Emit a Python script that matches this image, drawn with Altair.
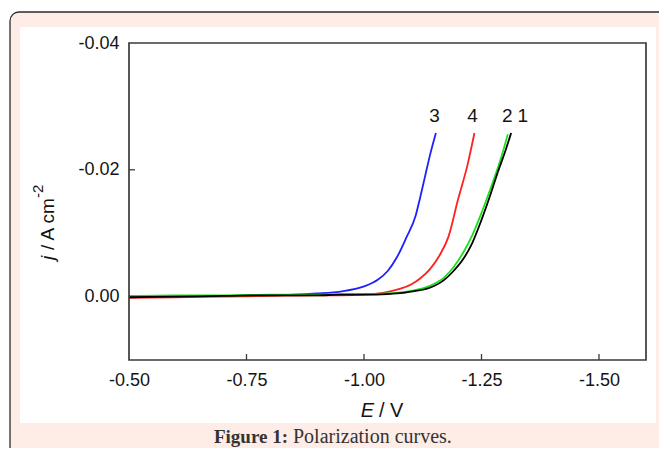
import altair as alt
import pandas as pd

# ---- data ----
E1 = [-0.50, -0.60, -0.70, -0.80, -0.90, -0.95, -1.00, -1.05, -1.07, -1.10, -1.14, -1.17, -1.19, -1.21, -1.23, -1.25, -1.27, -1.285, -1.30, -1.313]
J1 = [0.0001, 0.0000, -0.0001, -0.0002, -0.0002, -0.0003, -0.0003, -0.0004, -0.0005, -0.0008, -0.0014, -0.0026, -0.0040, -0.0058, -0.0084, -0.0121, -0.0163, -0.0197, -0.0228, -0.0258]

E2 = [-0.50, -0.60, -0.70, -0.80, -0.90, -0.95, -1.00, -1.05, -1.07, -1.10, -1.14, -1.17, -1.19, -1.21, -1.23, -1.25, -1.27, -1.29, -1.306]
J2 = [-0.0001, -0.0002, -0.0002, -0.0003, -0.0003, -0.0004, -0.0004, -0.0005, -0.0006, -0.0009, -0.0017, -0.0030, -0.0046, -0.0068, -0.0096, -0.0132, -0.0172, -0.0215, -0.0256]

E3 = [-0.50, -0.60, -0.70, -0.80, -0.85, -0.90, -0.95, -1.00, -1.03, -1.05, -1.07, -1.09, -1.11, -1.12, -1.13, -1.14, -1.153]
J3 = [0.0000, -0.0001, -0.0001, -0.0002, -0.0003, -0.0005, -0.0008, -0.0016, -0.0027, -0.0040, -0.0062, -0.0093, -0.0128, -0.0158, -0.0190, -0.0222, -0.0258]

E4 = [-0.50, -0.60, -0.70, -0.80, -0.90, -0.95, -1.00, -1.04, -1.07, -1.10, -1.12, -1.14, -1.16, -1.18, -1.20, -1.22, -1.235]
J4 = [0.0002, 0.0001, 0.0000, -0.0001, -0.0002, -0.0002, -0.0003, -0.0006, -0.0011, -0.0019, -0.0029, -0.0043, -0.0064, -0.0095, -0.0153, -0.0207, -0.0258]

curve_names = ["3", "4", "2", "1"]
curve_colors = ["#1f1fff", "#ff2020", "#19e019", "#000000"]

label_text = ["3", "4", "2", "1"]
label_E = [-1.150, -1.231, -1.305, -1.338]
label_j = [-0.0275, -0.0275, -0.0275, -0.0275]

x_ticks = [-0.50, -0.75, -1.00, -1.25, -1.50]
y_ticks = [-0.04, -0.02, 0.00]
x_domain = [-0.50, -1.60]
y_domain = [0.01, -0.04]

# ---- tables ----
rows = []
for name, E, J in [("3", E3, J3), ("4", E4, J4), ("2", E2, J2), ("1", E1, J1)]:
    rows += [{"curve": name, "E": e, "j": j} for e, j in zip(E, J)]
df = pd.DataFrame(rows)
labels = pd.DataFrame({"t": label_text, "E": label_E, "j": label_j})
xt = pd.DataFrame({"E": x_ticks[1:]})
yt = pd.DataFrame({"j": y_ticks[1:2]})
one = pd.DataFrame({"k": [0]})

W, H = 517, 317
FONT = "Liberation Sans"
INK = "#141414"
xs = alt.Scale(domain=x_domain, nice=False, zero=False)
ys = alt.Scale(domain=y_domain, nice=False, zero=False)
minus_fix = "replace(format(datum.value, '.2f'), '\u2212', '-')"

outer = alt.Chart(one).mark_rect(
    fill="#fdede6", stroke="#2b2b2b", strokeWidth=1.3, cornerRadius=9
).encode(x=alt.value(-119), x2=alt.value(600), y=alt.value(-31), y2=alt.value(460))

inner = alt.Chart(one).mark_rect(fill="#ffffff").encode(
    x=alt.value(-109), x2=alt.value(527), y=alt.value(-16), y2=alt.value(380)
)

lines = alt.Chart(df).mark_line(strokeWidth=1.8, interpolate="monotone").encode(
    x=alt.X("E:Q", scale=xs, axis=alt.Axis(
        values=x_ticks, labelExpr=minus_fix, title=None, domain=False, ticks=False,
        grid=False, labelFont=FONT, labelFontSize=18, labelColor=INK,
        labelPadding=11, labelFlush=False, labelOverlap=False, zindex=1)),
    y=alt.Y("j:Q", scale=ys, axis=alt.Axis(
        values=y_ticks, labelExpr=minus_fix, title=None, domain=False, ticks=False,
        grid=False, labelFont=FONT, labelFontSize=18, labelColor=INK,
        labelPadding=10, labelFlush=False, labelOverlap=False, zindex=1)),
    color=alt.Color("curve:N", scale=alt.Scale(domain=curve_names, range=curve_colors), legend=None),
    detail="curve:N",
)

frame = alt.Chart(one).mark_rect(filled=False, stroke="#3a3a3a", strokeWidth=1.7).encode(
    x=alt.value(0), x2=alt.value(W), y=alt.value(0), y2=alt.value(H)
)

xtick = alt.Chart(xt).mark_rule(color="#3a3a3a", strokeWidth=1.3).encode(
    x=alt.X("E:Q", scale=xs, title=None), y=alt.value(H - 6), y2=alt.value(H)
)
ytick = alt.Chart(yt).mark_rule(color="#3a3a3a", strokeWidth=1.3).encode(
    y=alt.Y("j:Q", scale=ys, title=None), x=alt.value(0), x2=alt.value(6)
)

curve_labels = alt.Chart(labels).mark_text(
    font=FONT, fontSize=19, color=INK, baseline="alphabetic"
).encode(
    x=alt.X("E:Q", scale=xs, title=None), y=alt.Y("j:Q", scale=ys, title=None), text="t:N"
)

def txt(s, x, y, **kw):
    return alt.Chart(one).mark_text(text=s, **kw).encode(x=alt.value(x), y=alt.value(y))

x_title = txt("E", 245, 374, font=FONT, fontSize=20, fontStyle="italic", align="right",
              baseline="alphabetic", color=INK) + \
          txt("/ V", 250, 374, font=FONT, fontSize=20, align="left",
              baseline="alphabetic", color=INK)

y_title = txt("j", -75, 217, font=FONT, fontSize=19, fontStyle="italic", angle=270,
              align="left", baseline="alphabetic", color=INK) + \
          txt("/ A cm", -75, 207, font=FONT, fontSize=19, angle=270,
              align="left", baseline="alphabetic", color=INK) + \
          txt("-2", -86, 155, font=FONT, fontSize=15, angle=270,
              align="left", baseline="alphabetic", color=INK)

caption = txt("Figure 1:", 159, 400, font="Liberation Serif", fontSize=19, fontWeight="bold",
              align="right", baseline="alphabetic", color="#333333") + \
          txt("Polarization curves.", 164, 400, font="Liberation Serif", fontSize=20,
              align="left", baseline="alphabetic", color="#333333")

chart = alt.layer(
    outer, inner, lines, frame, xtick, ytick, curve_labels, x_title, y_title, caption
).properties(
    width=W, height=H, background="#ffffff",
    padding={"left": 121, "top": 35, "right": 13, "bottom": 88},
    autosize=alt.AutoSizeParams(type="none")
).configure_view(stroke=None)

chart.save("out.html", embed_options={"renderer": "svg", "actions": False})
